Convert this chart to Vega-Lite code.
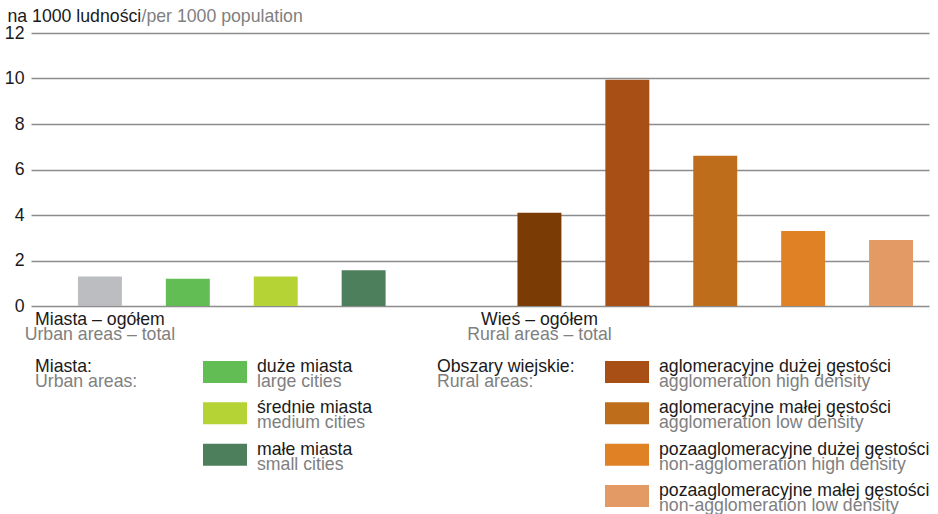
{
  "$schema": "https://vega.github.io/schema/vega-lite/v6.json",
  "background": "white",
  "autosize": {"type": "pad"},
  "padding": {"left": 4, "top": 7, "right": 0, "bottom": 0},
  "config": {"font": "Liberation Sans", "view": {"stroke": null}},
  "datasets": {
    "rates": [
      {"category": "Miasta – ogółem", "english": "Urban areas – total", "group": "Miasta:", "groupEn": "Urban areas:", "kind": "total", "rank": 0, "value": 1.3},
      {"category": "duże miasta", "english": "large cities", "group": "Miasta:", "groupEn": "Urban areas:", "kind": "sub", "rank": 1, "value": 1.2},
      {"category": "średnie miasta", "english": "medium cities", "group": "Miasta:", "groupEn": "Urban areas:", "kind": "sub", "rank": 2, "value": 1.3},
      {"category": "małe miasta", "english": "small cities", "group": "Miasta:", "groupEn": "Urban areas:", "kind": "sub", "rank": 3, "value": 1.57},
      {"category": "Wieś – ogółem", "english": "Rural areas – total", "group": "Obszary wiejskie:", "groupEn": "Rural areas:", "kind": "total", "rank": 0, "value": 4.1},
      {"category": "aglomeracyjne dużej gęstości", "english": "agglomeration high density", "group": "Obszary wiejskie:", "groupEn": "Rural areas:", "kind": "sub", "rank": 1, "value": 9.95},
      {"category": "aglomeracyjne małej gęstości", "english": "agglomeration low density", "group": "Obszary wiejskie:", "groupEn": "Rural areas:", "kind": "sub", "rank": 2, "value": 6.6},
      {"category": "pozaaglomeracyjne dużej gęstości", "english": "non-agglomeration high density", "group": "Obszary wiejskie:", "groupEn": "Rural areas:", "kind": "sub", "rank": 3, "value": 3.3},
      {"category": "pozaaglomeracyjne małej gęstości", "english": "non-agglomeration low density", "group": "Obszary wiejskie:", "groupEn": "Rural areas:", "kind": "sub", "rank": 4, "value": 2.9}
    ]
  },
  "bounds": "flush",
  "spacing": 66,
  "vconcat": [
    {
      "width": 898,
      "height": 273,
      "data": {"name": "rates"},
      "layer": [
        {
          "mark": {"type": "bar"},
          "encoding": {
            "x": {
              "field": "category", "type": "nominal", "sort": null,
              "scale": {
                "domain": ["Miasta – ogółem", "duże miasta", "średnie miasta", "małe miasta", " ", "Wieś – ogółem", "aglomeracyjne dużej gęstości", "aglomeracyjne małej gęstości", "pozaaglomeracyjne dużej gęstości", "pozaaglomeracyjne małej gęstości"],
                "paddingInner": 0.5, "paddingOuter": 0.358, "align": 0.746
              },
              "axis": {
                "orient": "top", "title": "/per 1000 population", "labels": false, "ticks": false, "domain": false, "grid": false,
                "titleX": 110, "titleY": -12, "titleAlign": "left", "titleBaseline": "alphabetic", "titleAngle": 0,
                "titleColor": "#808080", "titleFontSize": 17.7, "titleFontWeight": "normal", "titlePadding": 0
              }
            },
            "y": {
              "field": "value", "type": "quantitative",
              "scale": {"domain": [0, 12], "nice": false},
              "axis": {
                "values": [0, 2, 4, 6, 8, 10, 12], "title": "na 1000 ludności", "titleAngle": 0,
                "titleX": -24, "titleY": -12, "titleAlign": "left", "titleBaseline": "alphabetic",
                "titleColor": "#1a1a1a", "titleFontSize": 17.7, "titleFontWeight": "normal",
                "domain": false, "ticks": false, "grid": true, "gridColor": "#8c8c8c", "gridWidth": 1.3,
                "labelFontSize": 17.7, "labelColor": "#1a1a1a", "labelPadding": 7, "labelBaseline": "middle"
              }
            },
            "color": {
              "field": "category", "type": "nominal", "legend": null,
              "scale": {
                "domain": ["Miasta – ogółem", "duże miasta", "średnie miasta", "małe miasta", "Wieś – ogółem", "aglomeracyjne dużej gęstości", "aglomeracyjne małej gęstości", "pozaaglomeracyjne dużej gęstości", "pozaaglomeracyjne małej gęstości"],
                "range": ["#bcbdc0", "#63bd55", "#b5d334", "#4e7f5d", "#7b3b04", "#a84f15", "#be6e1b", "#e08126", "#e39a64"]
              }
            }
          }
        },
        {
          "transform": [{"filter": "datum.kind == 'total'"}],
          "mark": {"type": "text", "baseline": "alphabetic", "align": "center", "dy": 19, "fontSize": 17.7, "color": "#1a1a1a"},
          "encoding": {
            "x": {"field": "category", "type": "nominal"},
            "y": {"datum": 0},
            "text": {"field": "category"}
          }
        },
        {
          "transform": [{"filter": "datum.kind == 'total'"}],
          "mark": {"type": "text", "baseline": "alphabetic", "align": "center", "dy": 34, "fontSize": 17.7, "color": "#808080"},
          "encoding": {
            "x": {"field": "category", "type": "nominal"},
            "y": {"datum": 0},
            "text": {"field": "english"}
          }
        }
      ]
    },
    {
      "width": 402,
      "height": 124,
      "data": {"name": "rates"},
      "transform": [{"filter": "datum.kind == 'sub'"}],
      "encoding": {
        "x": {"field": "group", "type": "nominal", "scale": {"type": "point", "domain": ["Miasta:", "Obszary wiejskie:"], "padding": 0}, "axis": null},
        "y": {"field": "rank", "type": "ordinal", "scale": {"type": "point", "domain": [1, 2, 3, 4], "padding": 0}, "axis": null}
      },
      "layer": [
        {
          "mark": {"type": "point", "shape": "M-1,-0.5H1V0.5H-1Z", "size": 1936, "filled": true, "opacity": 1, "strokeWidth": 0, "xOffset": 194},
          "encoding": {"color": {"field": "category", "type": "nominal", "legend": null}}
        },
        {
          "mark": {"type": "text", "align": "left", "baseline": "alphabetic", "dx": 226, "dy": 0, "fontSize": 17.7, "color": "#1a1a1a"},
          "encoding": {"text": {"field": "category"}}
        },
        {
          "mark": {"type": "text", "align": "left", "baseline": "alphabetic", "dx": 226, "dy": 15, "fontSize": 17.7, "color": "#808080"},
          "encoding": {"text": {"field": "english"}}
        },
        {
          "transform": [{"filter": "datum.rank == 1"}],
          "mark": {"type": "text", "align": "left", "baseline": "alphabetic", "dx": 4, "dy": 0, "fontSize": 17.7, "color": "#1a1a1a"},
          "encoding": {"text": {"field": "group"}}
        },
        {
          "transform": [{"filter": "datum.rank == 1"}],
          "mark": {"type": "text", "align": "left", "baseline": "alphabetic", "dx": 4, "dy": 15, "fontSize": 17.7, "color": "#808080"},
          "encoding": {"text": {"field": "groupEn"}}
        }
      ]
    }
  ]
}
